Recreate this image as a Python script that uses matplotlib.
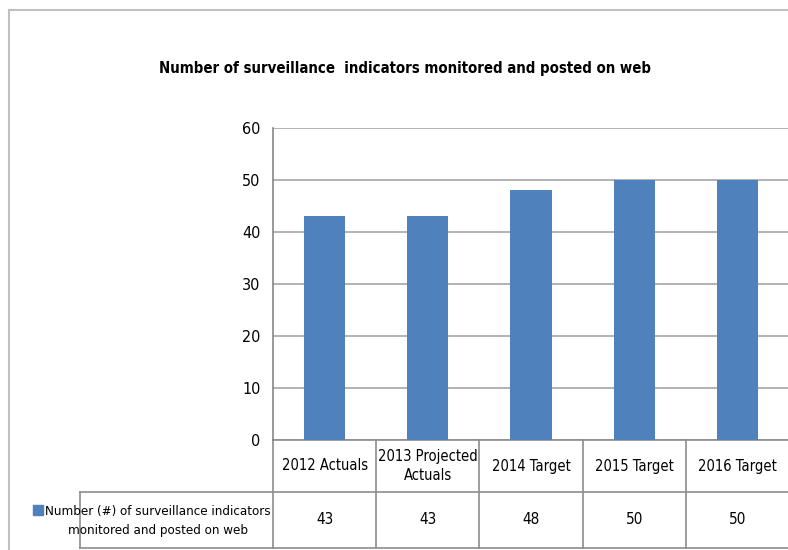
import numpy as np
import matplotlib
matplotlib.use("Agg")
from matplotlib import pyplot as plt
from matplotlib.lines import Line2D
from matplotlib.patches import Rectangle
import matplotlib.transforms as mtransforms

# data for the chart and its data table
categories = ["2012 Actuals", "2013 Projected\nActuals", "2014 Target",
              "2015 Target", "2016 Target"]
values = [43, 43, 48, 50, 50]
series_name = "Number (#) of surveillance indicators\nmonitored and posted on web"
title = "Number of surveillance  indicators monitored and posted on web"

bar_color = "#4f81bd"
grid_color = "#a6a6a6"

plt.rcParams["font.family"] = ["DejaVu Sans"]
plt.rcParams["font.stretch"] = "condensed"

W, H = 788, 550
fig = plt.figure(figsize=(W / 100, H / 100), dpi=100)

# plot area in pixel units
left, right, top, bottom = 273, 789, 128, 440
ax = fig.add_axes([left / W, (H - bottom) / H, (right - left) / W, (bottom - top) / H])

x = np.arange(len(categories))
ax.bar(x, values, width=0.4, color=bar_color, zorder=3)

ax.set_xlim(-0.5, len(categories) - 0.5)
ax.set_ylim(0, 60)
ax.set_yticks(np.arange(0, 61, 10))
ax.set_xticks([])
ax.yaxis.grid(True, color=grid_color, linewidth=1.2, zorder=0)
ax.tick_params(axis="y", length=0, pad=9, labelsize=11.5)
for s in ["top", "right", "bottom"]:
    ax.spines[s].set_visible(False)
ax.spines["left"].set_color("#868686")
ax.spines["left"].set_linewidth(1.2)

# data table below the plot area
trans = mtransforms.blended_transform_factory(ax.transData, ax.transAxes)
row1 = -(492 - bottom) / (bottom - top)
row2 = -(548 - bottom) / (bottom - top)
x_first = -0.5 - (left - 80) / ((right - left) / len(categories))
line_kw = dict(color="#8c8c8c", linewidth=1.2, transform=trans, clip_on=False)

ax.add_line(Line2D([-0.5, len(categories) - 0.5], [0, 0], **line_kw))
ax.add_line(Line2D([x_first, len(categories) - 0.5], [row1, row1], **line_kw))
ax.add_line(Line2D([x_first, len(categories) - 0.5], [row2, row2], **line_kw))
ax.add_line(Line2D([x_first, x_first], [row1, row2], **line_kw))
for i in range(len(categories) + 1):
    ax.add_line(Line2D([i - 0.5, i - 0.5], [0, row2], **line_kw))

for i, (c, v) in enumerate(zip(categories, values)):
    ax.text(i, row1 / 2, c, transform=trans, ha="center", va="center",
            fontsize=10.5, linespacing=1.35)
    ax.text(i, (row1 + row2) / 2, str(v), transform=trans, ha="center",
            va="center", fontsize=11)

# legend key and series name in the first column
fig.text(158 / W, 1 - 521 / H, series_name, ha="center", va="center",
         fontsize=9.5, linespacing=1.65)
fig.add_artist(Rectangle((33 / W, 1 - 515 / H), 10 / W, 10 / H,
                         color=bar_color, transform=fig.transFigure))

# outer chart border
fig.add_artist(Line2D([9 / W, 1], [1 - 10 / H, 1 - 10 / H], color="#c0c0c0",
                      linewidth=1.5, transform=fig.transFigure))
fig.add_artist(Line2D([9 / W, 9 / W], [0, 1 - 10 / H], color="#c0c0c0",
                      linewidth=1.5, transform=fig.transFigure))

fig.text(405 / W, 1 - 68 / H, title, ha="center", va="center",
         fontsize=10.7, fontweight="bold")

fig.savefig("out.png", dpi=100)
